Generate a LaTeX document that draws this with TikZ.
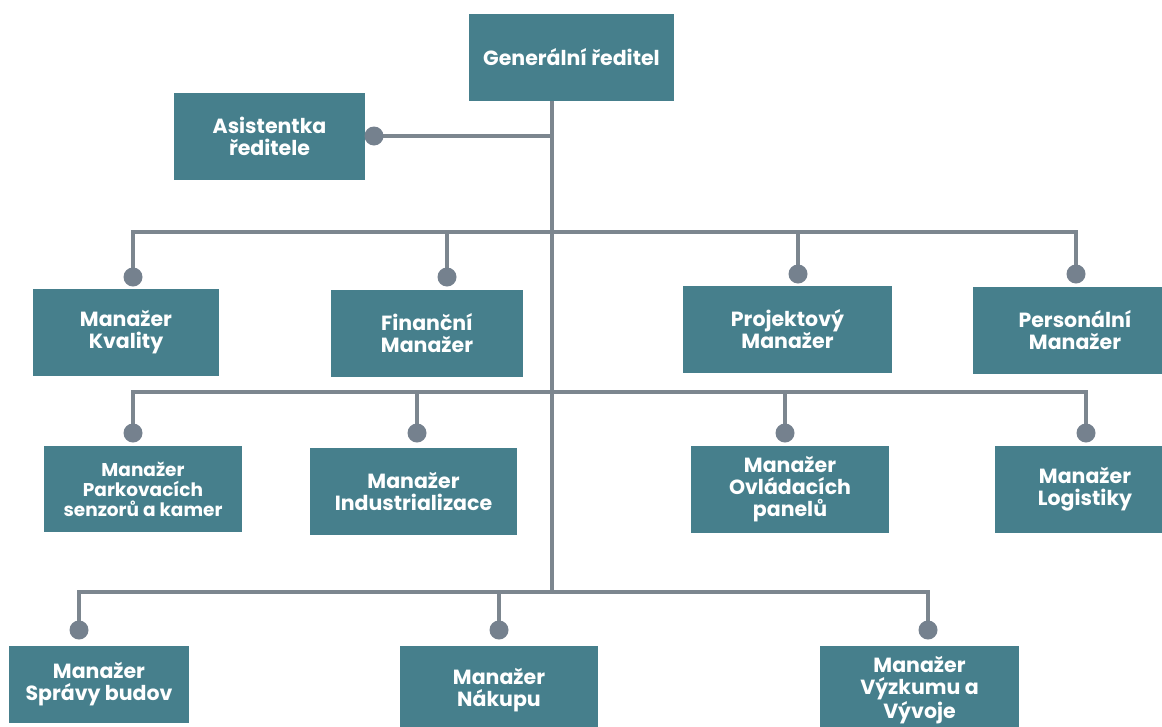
\documentclass[tikz,border=0pt]{standalone}
\usepackage{fontspec}
\setmainfont{Poppins}
\usetikzlibrary{calc}

\definecolor{boxteal}{RGB}{70,127,140}
\definecolor{linegray}{RGB}{124,134,143}
\definecolor{dotgray}{RGB}{117,129,142}

\begin{document}
\begin{tikzpicture}[x=1pt, y=-1pt]
            \tikzstyle{role} = [fill=boxteal, text=white, align=center, inner sep=0pt,
                font=\bfseries\fontsize{20.5}{22}\selectfont]
            \tikzstyle{small role} = [role, font=\bfseries\fontsize{18.5}{20}\selectfont]
            \tikzstyle{link} = [draw=linegray, line width=3.6pt]
            \tikzstyle{knob} = [fill=dotgray]
            \clip (0, 0) rectangle (1162, 726);
            \fill[white] (0, 0) rectangle (1162, 726);
            % boxes
            \node[role, minimum width=205, minimum height=87] (gen) at (571.5, 57.5) {Generální ředitel};
            \node[role, minimum width=191, minimum height=87] (asist) at (269.5, 136.5) {Asistentka\\ředitele};
            \node[role, minimum width=186, minimum height=87] (kval) at (126, 332.5) {Manažer\\Kvality};
            \node[role, minimum width=192, minimum height=87] (fin) at (427, 333.5) {Finanční\\Manažer};
            \node[role, minimum width=209, minimum height=87] (proj) at (787.5, 329.5) {Projektový\\Manažer};
            \node[role, minimum width=204, minimum height=87] (pers) at (1075, 330.5) {Personální\\Manažer};
            \node[small role, minimum width=198, minimum height=86] (park) at (143, 489) {Manažer\\Parkovacích\\senzorů a kamer};
            \node[role, minimum width=207, minimum height=87] (ind) at (413.5, 491.5) {Manažer\\Industrializace};
            \node[role, minimum width=198, minimum height=87] (ovl) at (790, 489.5) {Manažer\\Ovládacích\\panelů};
            \node[role, minimum width=180, minimum height=87] (log) at (1085, 489.5) {Manažer\\Logistiky};
            \node[role, minimum width=180, minimum height=77] (spr) at (99, 684.5) {Manažer\\Správy budov};
            \node[role, minimum width=198, minimum height=88] (nak) at (499, 690) {Manažer\\Nákupu};
            \node[role, minimum width=199, minimum height=88] (vyz) at (919.5, 690) {Manažer\\Výzkumu a\\Vývoje};
            % joints and knobs
            \coordinate (j1) at (552, 232);
            \coordinate (j2) at (552, 392);
            \coordinate (j3) at (552, 592);
            \coordinate (asistD) at (374, 136);
            \coordinate (kvalD) at (133, 277);
            \coordinate (finD) at (447, 277);
            \coordinate (projD) at (798, 274);
            \coordinate (persD) at (1076, 274);
            \coordinate (parkD) at (133, 433);
            \coordinate (indD) at (417, 433);
            \coordinate (ovlD) at (785, 433);
            \coordinate (logD) at (1086, 433);
            \coordinate (sprD) at (79, 630);
            \coordinate (nakD) at (499, 630);
            \coordinate (vyzD) at (928, 630);
            % lines
            \draw[link] (j1 |- gen.south) -- (j3);
            \draw[link] (asistD) -- (asistD -| j1);
            \draw[link] (kvalD) |- (j1) -| (persD);
            \draw[link] (finD) -- (finD |- j1);
            \draw[link] (projD) -- (projD |- j1);
            \draw[link] (parkD) |- (j2) -| (logD);
            \draw[link] (indD) -- (indD |- j2);
            \draw[link] (ovlD) -- (ovlD |- j2);
            \draw[link] (sprD) |- (j3) -| (vyzD);
            \draw[link] (nakD) -- (nakD |- j3);
            \foreach \k in {asistD, kvalD, finD, projD, persD, parkD, indD, ovlD, logD, sprD, nakD, vyzD}
                \fill[knob] (\k) circle[radius=9.5];
        \end{tikzpicture}
\end{document}
